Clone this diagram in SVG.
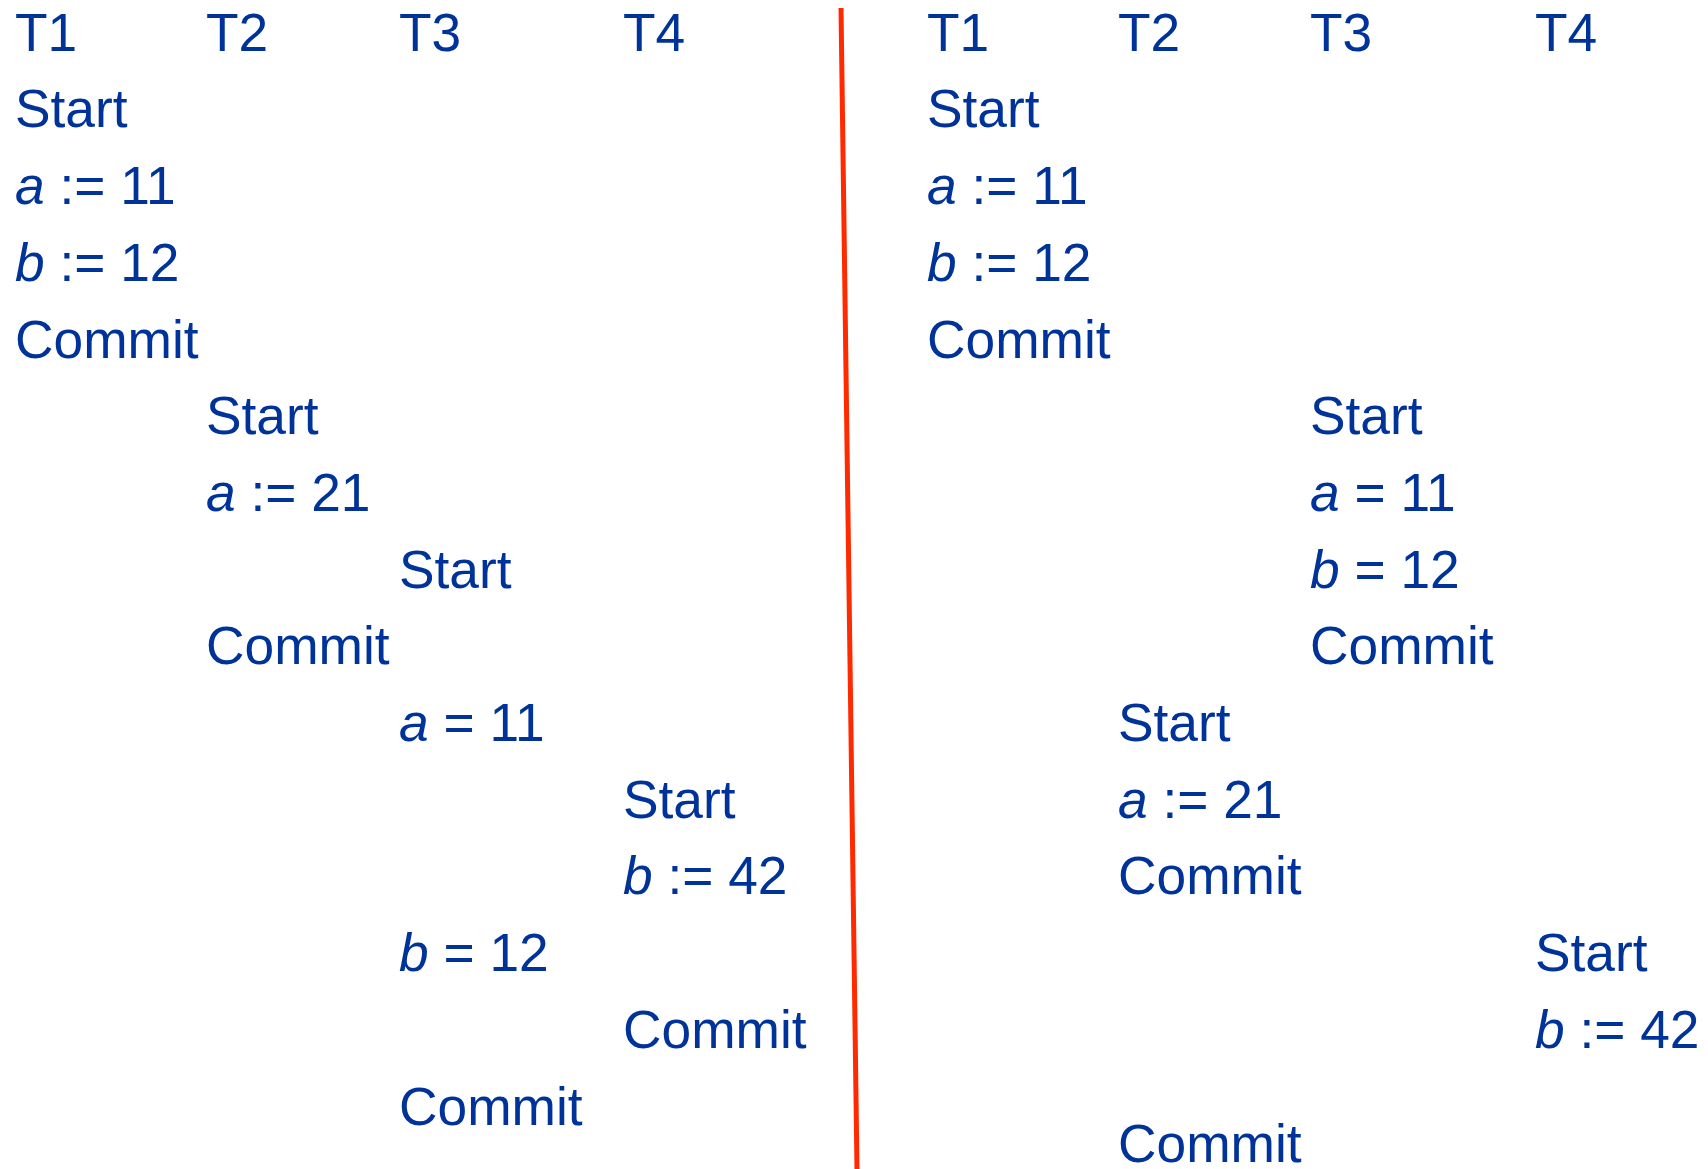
<svg xmlns="http://www.w3.org/2000/svg" width="1708" height="1169" viewBox="0 0 1708 1169">
<style>
text{font-family:"Liberation Sans",Arial,sans-serif;font-size:53.3px;fill:#003399}
.i{font-style:italic}
.sep{stroke:#FF2A00;stroke-width:5;fill:none}
</style>
<rect width="1708" height="1169" fill="#ffffff"/>
<g id="connectors">
<line class="sep" x1="841" y1="8" x2="857" y2="1169"/>
</g>
<g id="left">
<g id="L-head"><text x="15" y="51">T1</text><text x="206" y="51">T2</text><text x="399" y="51">T3</text><text x="623" y="51">T4</text></g>
<g id="L1"><text x="15" y="127">Start</text></g>
<g id="L2"><text x="15" y="204" xml:space="preserve"><tspan class="i">a</tspan> := 11</text></g>
<g id="L3"><text x="15" y="281" xml:space="preserve"><tspan class="i">b</tspan> := 12</text></g>
<g id="L4"><text x="15" y="358">Commit</text></g>
<g id="L5"><text x="206" y="434">Start</text></g>
<g id="L6"><text x="206" y="511" xml:space="preserve"><tspan class="i">a</tspan> := 21</text></g>
<g id="L7"><text x="399" y="588">Start</text></g>
<g id="L8"><text x="206" y="664">Commit</text></g>
<g id="L9"><text x="399" y="741" xml:space="preserve"><tspan class="i">a</tspan> = 11</text></g>
<g id="L10"><text x="623" y="818">Start</text></g>
<g id="L11"><text x="623" y="894" xml:space="preserve"><tspan class="i">b</tspan> := 42</text></g>
<g id="L12"><text x="399" y="971" xml:space="preserve"><tspan class="i">b</tspan> = 12</text></g>
<g id="L13"><text x="623" y="1048">Commit</text></g>
<g id="L14"><text x="399" y="1125">Commit</text></g>
</g>
<g id="right">
<g id="R-head"><text x="927" y="51">T1</text><text x="1118" y="51">T2</text><text x="1310" y="51">T3</text><text x="1535" y="51">T4</text></g>
<g id="R1"><text x="927" y="127">Start</text></g>
<g id="R2"><text x="927" y="204" xml:space="preserve"><tspan class="i">a</tspan> := 11</text></g>
<g id="R3"><text x="927" y="281" xml:space="preserve"><tspan class="i">b</tspan> := 12</text></g>
<g id="R4"><text x="927" y="358">Commit</text></g>
<g id="R5"><text x="1310" y="434">Start</text></g>
<g id="R6"><text x="1310" y="511" xml:space="preserve"><tspan class="i">a</tspan> = 11</text></g>
<g id="R7"><text x="1310" y="588" xml:space="preserve"><tspan class="i">b</tspan> = 12</text></g>
<g id="R8"><text x="1310" y="664">Commit</text></g>
<g id="R9"><text x="1118" y="741">Start</text></g>
<g id="R10"><text x="1118" y="818" xml:space="preserve"><tspan class="i">a</tspan> := 21</text></g>
<g id="R11"><text x="1118" y="894">Commit</text></g>
<g id="R12"><text x="1535" y="971">Start</text></g>
<g id="R13"><text x="1535" y="1048" xml:space="preserve"><tspan class="i">b</tspan> := 42</text></g>
<g id="R14"><text x="1118" y="1162">Commit</text></g>
</g>
</svg>
